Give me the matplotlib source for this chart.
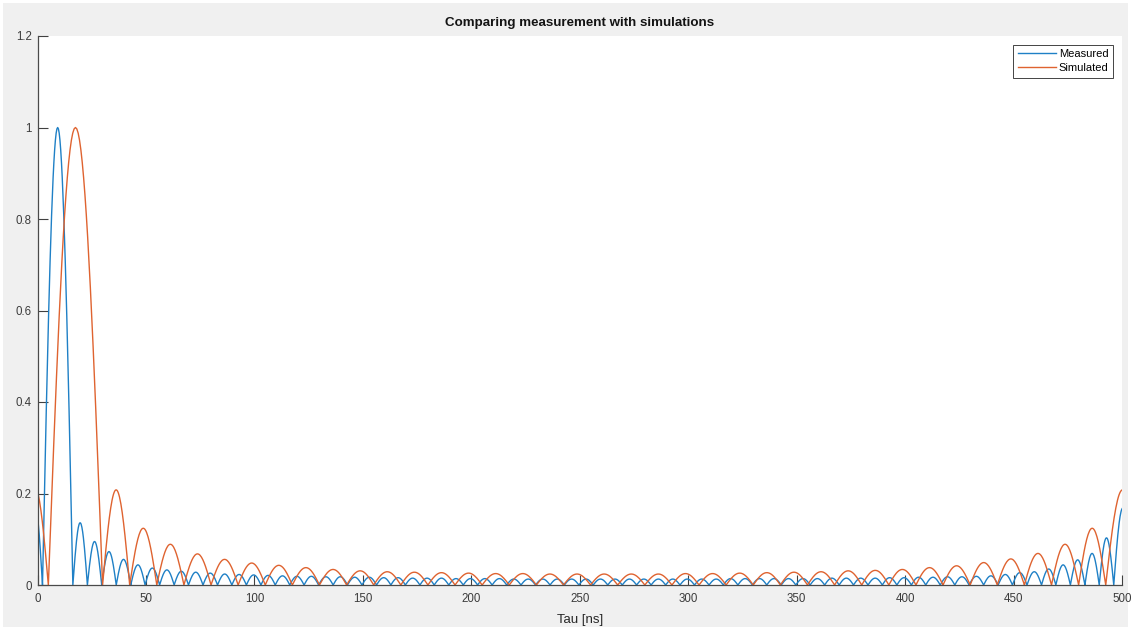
import numpy as np
import matplotlib
matplotlib.use("Agg")
import matplotlib.pyplot as plt
from matplotlib.patches import Rectangle
from matplotlib.ticker import MultipleLocator

plt.rcParams['font.family'] = ['Liberation Sans', 'DejaVu Sans']

# |autocorrelation| curves, stored lobe by lobe: zero crossings (ns) and lobe peaks
meas_edges = [-4.4, 2.3, 16.3, 23.0, 29.6, 36.3, 43.0, 49.6, 56.3, 63.0, 69.6,
              76.3, 83.0, 89.6, 96.3, 103.0, 109.6, 116.3, 122.9, 129.6, 136.3,
              142.9, 149.6, 156.3, 162.9, 169.6, 176.3, 182.9, 189.6, 196.3, 202.9,
              209.6, 216.3, 222.9, 229.6, 236.3, 242.9, 249.6, 256.2, 262.9, 269.6,
              276.2, 282.9, 289.6, 296.2, 302.9, 309.6, 316.2, 322.9, 329.6, 336.2,
              342.9, 349.6, 356.2, 362.9, 369.6, 376.2, 382.9, 389.5, 396.2, 402.9,
              409.5, 416.2, 422.9, 429.5, 436.2, 442.9, 449.5, 456.2, 462.9, 469.5,
              476.2, 482.9, 489.5, 496.2, 504.5]
meas_peaks = [0.17, 1.0,
              0.136, 0.095, 0.073, 0.056, 0.044, 0.037, 0.033, 0.030, 0.028, 0.026,
              0.024, 0.023, 0.022, 0.021, 0.020, 0.019, 0.019, 0.018, 0.018, 0.017,
              0.017, 0.016, 0.016, 0.015, 0.015, 0.015, 0.014, 0.014, 0.014, 0.014,
              0.013, 0.013, 0.013, 0.013, 0.013, 0.013, 0.013, 0.013, 0.013, 0.013,
              0.013, 0.013, 0.013, 0.013, 0.013, 0.014, 0.014, 0.014, 0.014, 0.014,
              0.014, 0.014, 0.015, 0.015, 0.015, 0.015, 0.016, 0.016, 0.017, 0.017,
              0.018, 0.018, 0.019, 0.020, 0.023, 0.027, 0.029, 0.035, 0.044, 0.055,
              0.069, 0.103, 0.168]

sim_edges = [-7.5, 5.0, 30.0, 42.5, 55.0, 67.5, 80.0, 92.5, 105.0, 117.5, 130.0,
             142.5, 155.0, 167.5, 180.0, 192.5, 205.0, 217.5, 230.0, 242.5, 255.0,
             267.5, 280.0, 292.5, 305.0, 317.5, 330.0, 342.5, 355.0, 367.5, 380.0,
             392.5, 405.0, 417.5, 430.0, 442.5, 455.0, 467.5, 480.0, 492.5, 508.0]
sim_peaks = [0.215, 1.0,
             0.208, 0.124, 0.089, 0.068, 0.056, 0.048, 0.043, 0.038, 0.034, 0.031,
             0.029, 0.028, 0.027, 0.026, 0.025, 0.025, 0.024, 0.024, 0.024, 0.024,
             0.024, 0.025, 0.025, 0.026, 0.027, 0.028, 0.029, 0.031, 0.032, 0.034,
             0.038, 0.042, 0.049, 0.057, 0.069, 0.089, 0.124, 0.208]


def lobes_to_curve(edges, peaks, n=41):
    xs, ys = [], []
    for a, b, h in zip(edges[:-1], edges[1:], peaks):
        u = np.linspace(0, 1, n)
        xs.append(a + (b - a) * u)
        ys.append(h * np.sin(np.pi * u))
    return np.concatenate(xs), np.concatenate(ys)


tau_m, r_m = lobes_to_curve(meas_edges, meas_peaks)
tau_s, r_s = lobes_to_curve(sim_edges, sim_peaks)

W, H = 1132, 628
fig = plt.figure(figsize=(W / 100, H / 100), dpi=100, facecolor='white')
fig.patches.append(Rectangle((3 / W, 1 / H), 1125 / W, 624 / H, transform=fig.transFigure,
                             facecolor='#f0f0f0', edgecolor='none', zorder=-10))
ax = fig.add_axes([37.5 / W, 43 / H, (1122 - 37.5) / W, (585 - 36) / H])
ax.set_facecolor('white')

ax.plot(tau_m, r_m, color='#1f80c6', lw=1.0, label='Measured')
ax.plot(tau_s, r_s, color='#df6330', lw=1.0, label='Simulated')

ax.set_xlim(0, 500)
ax.set_ylim(0, 1.2)
ax.xaxis.set_major_locator(MultipleLocator(50))
ax.set_yticks([0, 0.2, 0.4, 0.6, 0.8, 1.0, 1.2])
ax.set_yticklabels(['0', '0.2', '0.4', '0.6', '0.8', '1', '1.2'])

for side in ['top', 'right']:
    ax.spines[side].set_visible(False)
for side in ['left', 'bottom']:
    ax.spines[side].set_color('#4a4a4a')
    ax.spines[side].set_linewidth(0.9)
ax.tick_params(direction='in', length=7.5, width=0.8, color='#404040',
               labelcolor='#3c3c3c', labelsize=8.3)
ax.tick_params(axis='x', pad=5.5)
ax.tick_params(axis='y', pad=4)

ax.set_title('Comparing measurement with simulations', fontsize=9.6, fontweight='bold',
             color='#141414', pad=7)
ax.set_xlabel('Tau [ns]', fontsize=9.5, color='#262626', labelpad=7)

leg = ax.legend(loc='upper right', fontsize=8, handlelength=3.4, handletextpad=0.3,
                labelspacing=0.35, borderpad=0.4, borderaxespad=0.8,
                fancybox=False, framealpha=1, edgecolor='#262626')
leg.get_frame().set_linewidth(0.6)

fig.savefig('out.png', dpi=100, facecolor=fig.get_facecolor())
